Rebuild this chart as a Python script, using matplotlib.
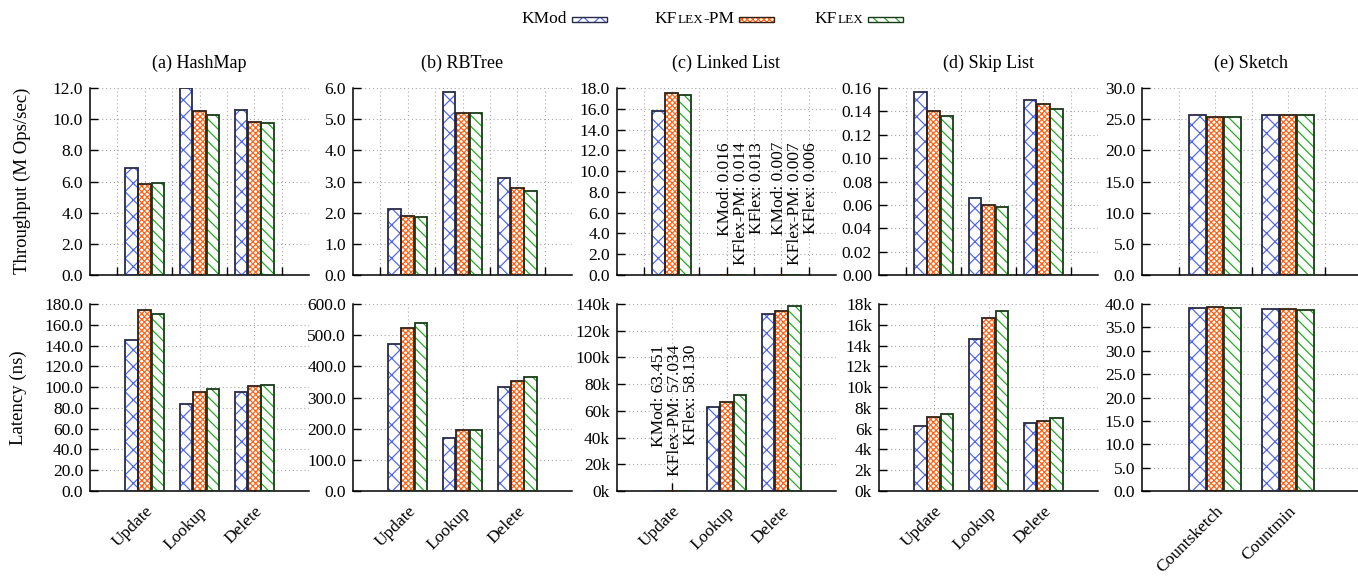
import numpy as np
import matplotlib
matplotlib.use("Agg")
import matplotlib.pyplot as plt
from matplotlib.patches import Rectangle

plt.rcParams['font.family'] = ['Liberation Serif', 'DejaVu Serif']
plt.rcParams['font.size'] = 12.5
plt.rcParams['hatch.linewidth'] = 0.85

series = ['KMod', 'KFlex-PM', 'KFlex']
ops = ['Update', 'Lookup', 'Delete']
sketch_ops = ['Countsketch', 'Countmin']
titles = ['(a) HashMap', '(b) RBTree', '(c) Linked List', '(d) Skip List', '(e) Sketch']

# throughput in M ops/sec, one row per series (KMod, KFlex-PM, KFlex)
tput_hashmap = [[6.86, 12.0, 10.61], [5.83, 10.52, 9.81], [5.89, 10.24, 9.75]]
tput_rbtree = [[2.12, 5.87, 3.10], [1.88, 5.19, 2.79], [1.85, 5.19, 2.69]]
tput_linked = [[15.79, 0.016, 0.007], [17.52, 0.014, 0.007], [17.30, 0.013, 0.006]]
tput_skip = [[0.157, 0.066, 0.150], [0.140, 0.060, 0.146], [0.136, 0.058, 0.142]]
tput_sketch = [[25.6, 25.66], [25.4, 25.66], [25.4, 25.66]]

# latency in ns
lat_hashmap = [[145.3, 83.9, 95.1], [174.2, 95.1, 100.6], [170.7, 98.0, 101.9]]
lat_rbtree = [[471.4, 169.3, 332.1], [522.9, 197.1, 352.5], [540.0, 195.0, 365.4]]
lat_linked = [[63.451, 63000, 132500], [57.034, 66500, 135000], [58.130, 71500, 138500]]
lat_skip = [[6270, 14590, 6560], [7100, 16620, 6780], [7430, 17290, 7010]]
lat_sketch = [[39.07, 38.86], [39.36, 38.86], [39.21, 38.79]]

tput_ticks = [np.arange(0, 12.1, 2), np.arange(0, 6.1, 1), np.arange(0, 18.1, 2),
              np.arange(0, 0.161, 0.02), np.arange(0, 30.1, 5)]
tput_fmt = ['{:.1f}', '{:.1f}', '{:.1f}', '{:.2f}', '{:.1f}']
lat_ticks = [np.arange(0, 181, 20), np.arange(0, 601, 100), np.arange(0, 140001, 20000),
             np.arange(0, 18001, 2000), np.arange(0, 40.1, 5)]
lat_fmt = ['{:.1f}', '{:.1f}', 'k', 'k', '{:.1f}']

tput_data = [tput_hashmap, tput_rbtree, tput_linked, tput_skip, tput_sketch]
lat_data = [lat_hashmap, lat_rbtree, lat_linked, lat_skip, lat_sketch]
cats = [ops, ops, ops, ops, sketch_ops]

hatch_colors = ['#4f63e6', '#ff6214', '#1ea61e']
edge_colors = ['#262b48', '#352014', '#183a18']
hatches = ['xx', 'xxxxxx', '\\\\\\']
offsets = [-0.245, 0.0, 0.245]
bar_w = 0.23

W, H = 1358, 581
fig = plt.figure(figsize=(W / 100, H / 100), dpi=100)

lefts = [90, 353, 617, 879, 1142]
ax_w = 219
row_tops = [88, 304]
ax_h = 187


def draw_bars(ax, values):
    x = np.arange(len(values[0]))
    for i, vals in enumerate(values):
        pos = x + offsets[i]
        ax.bar(pos, vals, bar_w, color='white', edgecolor=hatch_colors[i],
               hatch=hatches[i], linewidth=0, zorder=2)
        ax.bar(pos, vals, bar_w, fill=False, edgecolor=edge_colors[i],
               linewidth=1.3, zorder=3)


def style_axis(ax, n, ticks, fmt, top_row, labels):
    ax.set_xlim(-1, n)
    ax.set_ylim(ticks[0], ticks[-1])
    ax.set_yticks(ticks)
    if fmt == 'k':
        ax.set_yticklabels(['{:.0f}k'.format(t / 1000) for t in ticks])
    else:
        ax.set_yticklabels([fmt.format(t) for t in ticks])
    if top_row:
        ax.set_xticks(np.arange(-0.5, n - 0.4, 0.5))
        ax.set_xticklabels([])
    else:
        ax.set_xticks(np.arange(n))
        ax.set_xticklabels(labels, rotation=45, ha='right', va='top',
                           rotation_mode='anchor')
    ax.tick_params(direction='in', length=6, width=1, color='black', pad=5)
    ax.tick_params(axis='x', pad=9)
    for s in ['top', 'right']:
        ax.spines[s].set_visible(False)
    for s in ['left', 'bottom']:
        ax.spines[s].set_linewidth(1.1)
    ax.grid(True, linestyle=(0, (1, 2.5)), color='#a8a8a8', linewidth=0.8)
    ax.set_axisbelow(True)


axes = []
for r, data_row in enumerate([tput_data, lat_data]):
    row = []
    for c in range(5):
        ax = fig.add_axes([lefts[c] / W, 1 - (row_tops[r] + ax_h) / H, ax_w / W, ax_h / H])
        draw_bars(ax, data_row[c])
        if r == 0:
            style_axis(ax, len(cats[c]), tput_ticks[c], tput_fmt[c], True, cats[c])
        else:
            style_axis(ax, len(cats[c]), lat_ticks[c], lat_fmt[c], False, cats[c])
        row.append(ax)
    axes.append(row)

for c in range(5):
    fig.text((lefts[c] + ax_w / 2) / W, 1 - 63 / H, titles[c], ha='center', va='center',
             fontsize=13)

fig.text(22 / W, 1 - 181 / H, 'Throughput (M Ops/sec)', rotation=90, ha='center',
         va='center', fontsize=13.5)
fig.text(18 / W, 1 - 398 / H, 'Latency (ns)', rotation=90, ha='center', va='center',
         fontsize=13.5)


# value labels for the bars that are too small to see
def small_note(ax, x, yfrac, values):
    lines = [f'{s}: {v}' for s, v in zip(series, values)]
    ax.text(x, yfrac, '\n'.join(lines), rotation=90, ha='center', va='top',
            multialignment='right', linespacing=1.0,
            transform=ax.get_xaxis_transform())


small_note(axes[0][2], 1.26, 0.711, ['{:.3f}'.format(v[1]) for v in tput_linked])
small_note(axes[0][2], 2.26, 0.711, ['{:.3f}'.format(v[2]) for v in tput_linked])
small_note(axes[1][2], 0.065, 0.781, ['{:.3f}'.format(v[0]) for v in lat_linked])

# legend with small caps labels, pieces laid out right to left before each swatch
legend_text = [[('KMod', 12.5)],
               [('KF', 12.5), ('LEX', 9.5), ('-PM', 12.5)],
               [('KF', 12.5), ('LEX', 9.5)]]
swatch_x = [572, 739, 868]
renderer = fig.canvas.get_renderer()
for i in range(3):
    x = swatch_x[i] - 5
    for s, fs in reversed(legend_text[i]):
        t = fig.text(x / W, 1 - 23 / H, s, fontsize=fs, ha='right', va='baseline')
        x = t.get_window_extent(renderer).x0
    fig.add_artist(Rectangle((swatch_x[i] / W, 1 - 22 / H), 35 / W, 5 / H,
                             transform=fig.transFigure, facecolor='white',
                             edgecolor=hatch_colors[i], hatch=hatches[i], linewidth=0))
    fig.add_artist(Rectangle((swatch_x[i] / W, 1 - 22 / H), 35 / W, 5 / H,
                             transform=fig.transFigure, fill=False,
                             edgecolor=edge_colors[i], linewidth=1.0))

fig.savefig('out.png', dpi=100)
